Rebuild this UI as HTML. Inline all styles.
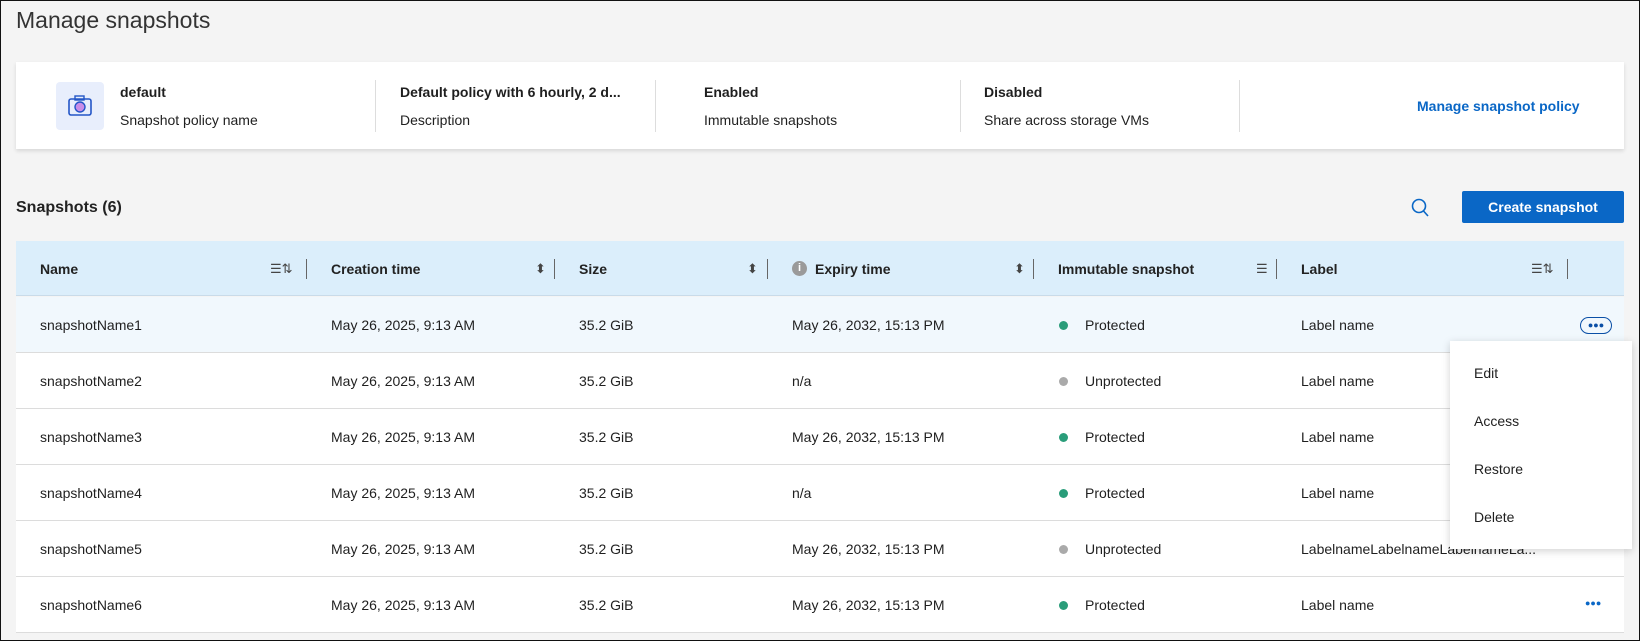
<!DOCTYPE html>
<html><head><style>
*{margin:0;padding:0;box-sizing:border-box}
body{width:1640px;height:641px;background:#f4f4f4;font-family:"Liberation Sans",sans-serif;color:#1f1f1f;position:relative;overflow:hidden;border:1px solid #111}
.a{position:absolute;white-space:nowrap}
.t{font-size:14px;line-height:16px;transform:translateY(-50%)}
.b{font-weight:bold}
.div{position:absolute;width:1px;background:#ddd}
.hd{font-size:14px;font-weight:bold;color:#222}
.row{position:absolute;left:15px;width:1608px;height:56px;border-bottom:1px solid #dcdcdc;background:#fff}
.dot{position:absolute;width:9px;height:9px;border-radius:50%}
.hsep{position:absolute;top:258px;width:1px;height:20px;background:#666}
.ico{position:absolute;font-size:13px;color:#444;transform:translateY(-50%)}
</style></head><body>
<div class="a" style="left:15px;top:6px;font-size:23px;color:#333">Manage snapshots</div>

<div class="a" style="left:15px;top:61px;width:1608px;height:87px;background:#fff;box-shadow:0 2px 4px rgba(0,0,0,.12)"></div>
<div class="a" style="left:55px;top:81px;width:48px;height:48px;background:#e8eefc;border-radius:4px">
<svg width="48" height="48"><rect x="13" y="17" width="22" height="16" rx="2" fill="none" stroke="#2456c7" stroke-width="1.6"/><rect x="19" y="14" width="9" height="4" fill="none" stroke="#2456c7" stroke-width="1.4"/><circle cx="24" cy="25" r="5" fill="#c98de8" stroke="#2456c7" stroke-width="1.4"/></svg></div>
<div class="a t b" style="left:119px;top:91px">default</div>
<div class="a t" style="left:119px;top:119px">Snapshot policy name</div>
<div class="div" style="left:374px;top:79px;height:52px"></div>
<div class="a t b" style="left:399px;top:91px">Default policy with 6 hourly, 2 d...</div>
<div class="a t" style="left:399px;top:119px">Description</div>
<div class="div" style="left:654px;top:79px;height:52px"></div>
<div class="a t b" style="left:703px;top:91px">Enabled</div>
<div class="a t" style="left:703px;top:119px">Immutable snapshots</div>
<div class="div" style="left:959px;top:79px;height:52px"></div>
<div class="a t b" style="left:983px;top:91px">Disabled</div>
<div class="a t" style="left:983px;top:119px">Share across storage VMs</div>
<div class="div" style="left:1238px;top:79px;height:52px"></div>
<div class="a t b" style="left:1416px;top:105px;color:#0a67c6">Manage snapshot policy</div>

<div class="a t b" style="left:15px;top:207px;font-size:16px;color:#222">Snapshots (6)</div>
<svg class="a" style="left:1409px;top:196px" width="22" height="22"><circle cx="9" cy="9" r="6.5" fill="none" stroke="#0a67c6" stroke-width="1.6"/><line x1="13.5" y1="14" x2="18" y2="19" stroke="#0a67c6" stroke-width="1.6"/></svg>
<div class="a" style="left:1461px;top:190px;width:162px;height:32px;background:#0a67c6;border-radius:2px;color:#fff;font-size:14px;font-weight:bold;text-align:center;line-height:32px">Create snapshot</div>

<div class="a" style="left:15px;top:240px;width:1608px;height:55px;background:#dbeefb;border-bottom:1px solid #c9dbe9"></div>
<div class="a t hd" style="left:39px;top:268px">Name</div>
<div class="ico" style="left:269px;top:268px">☰⇅</div><div class="hsep" style="left:305px"></div>
<div class="a t hd" style="left:330px;top:268px">Creation time</div>
<div class="ico" style="left:534px;top:268px">⬍</div><div class="hsep" style="left:553px"></div>
<div class="a t hd" style="left:578px;top:268px">Size</div>
<div class="ico" style="left:746px;top:268px">⬍</div><div class="hsep" style="left:766px"></div>
<div class="a" style="left:791px;top:260px;width:15px;height:15px;border-radius:50%;background:#9a9a9a;color:#fff;font-size:11px;font-weight:bold;text-align:center;line-height:15px">i</div>
<div class="a t hd" style="left:814px;top:268px">Expiry time</div>
<div class="ico" style="left:1013px;top:268px">⬍</div><div class="hsep" style="left:1032px"></div>
<div class="a t hd" style="left:1057px;top:268px">Immutable snapshot</div>
<div class="ico" style="left:1255px;top:268px">☰</div><div class="hsep" style="left:1275px"></div>
<div class="a t hd" style="left:1300px;top:268px">Label</div>
<div class="ico" style="left:1530px;top:268px">☰⇅</div><div class="hsep" style="left:1566px"></div>

<div class="row" style="top:296px;background:#f1f8fd"></div>
<div class="row" style="top:352px"></div>
<div class="row" style="top:408px"></div>
<div class="row" style="top:464px"></div>
<div class="row" style="top:520px"></div>
<div class="row" style="top:576px"></div>

<div class="a t" style="left:39px;top:324px">snapshotName1</div><div class="a t" style="left:330px;top:324px">May 26, 2025, 9:13 AM</div><div class="a t" style="left:578px;top:324px">35.2 GiB</div><div class="a t" style="left:791px;top:324px">May 26, 2032, 15:13 PM</div><div class="dot" style="left:1058px;top:320px;background:#2a9d7a"></div><div class="a t" style="left:1084px;top:324px">Protected</div><div class="a t" style="left:1300px;top:324px">Label name</div>
<div class="a t" style="left:39px;top:380px">snapshotName2</div><div class="a t" style="left:330px;top:380px">May 26, 2025, 9:13 AM</div><div class="a t" style="left:578px;top:380px">35.2 GiB</div><div class="a t" style="left:791px;top:380px">n/a</div><div class="dot" style="left:1058px;top:376px;background:#aaa"></div><div class="a t" style="left:1084px;top:380px">Unprotected</div><div class="a t" style="left:1300px;top:380px">Label name</div>
<div class="a t" style="left:39px;top:436px">snapshotName3</div><div class="a t" style="left:330px;top:436px">May 26, 2025, 9:13 AM</div><div class="a t" style="left:578px;top:436px">35.2 GiB</div><div class="a t" style="left:791px;top:436px">May 26, 2032, 15:13 PM</div><div class="dot" style="left:1058px;top:432px;background:#2a9d7a"></div><div class="a t" style="left:1084px;top:436px">Protected</div><div class="a t" style="left:1300px;top:436px">Label name</div>
<div class="a t" style="left:39px;top:492px">snapshotName4</div><div class="a t" style="left:330px;top:492px">May 26, 2025, 9:13 AM</div><div class="a t" style="left:578px;top:492px">35.2 GiB</div><div class="a t" style="left:791px;top:492px">n/a</div><div class="dot" style="left:1058px;top:488px;background:#2a9d7a"></div><div class="a t" style="left:1084px;top:492px">Protected</div><div class="a t" style="left:1300px;top:492px">Label name</div>
<div class="a t" style="left:39px;top:548px">snapshotName5</div><div class="a t" style="left:330px;top:548px">May 26, 2025, 9:13 AM</div><div class="a t" style="left:578px;top:548px">35.2 GiB</div><div class="a t" style="left:791px;top:548px">May 26, 2032, 15:13 PM</div><div class="dot" style="left:1058px;top:544px;background:#aaa"></div><div class="a t" style="left:1084px;top:548px">Unprotected</div><div class="a t" style="left:1300px;top:548px">LabelnameLabelnameLabelnameLa...</div>
<div class="a t" style="left:39px;top:604px">snapshotName6</div><div class="a t" style="left:330px;top:604px">May 26, 2025, 9:13 AM</div><div class="a t" style="left:578px;top:604px">35.2 GiB</div><div class="a t" style="left:791px;top:604px">May 26, 2032, 15:13 PM</div><div class="dot" style="left:1058px;top:600px;background:#2a9d7a"></div><div class="a t" style="left:1084px;top:604px">Protected</div><div class="a t" style="left:1300px;top:604px">Label name</div>

<div class="a" style="left:1579px;top:316px;width:32px;height:17px;border:1.5px solid #0a4fa6;border-radius:9px;color:#0a4fa6;font-size:9px;text-align:center;line-height:14px">●●●</div>
<div class="a" style="left:1584px;top:597px;color:#0a67c6;font-size:9px">●●●</div>

<div class="a" style="left:1449px;top:340px;width:182px;height:208px;background:#fff;box-shadow:0 2px 8px rgba(0,0,0,.18)"></div>
<div class="a t" style="left:1473px;top:372px">Edit</div>
<div class="a t" style="left:1473px;top:420px">Access</div>
<div class="a t" style="left:1473px;top:468px">Restore</div>
<div class="a t" style="left:1473px;top:516px">Delete</div>
</body></html>
